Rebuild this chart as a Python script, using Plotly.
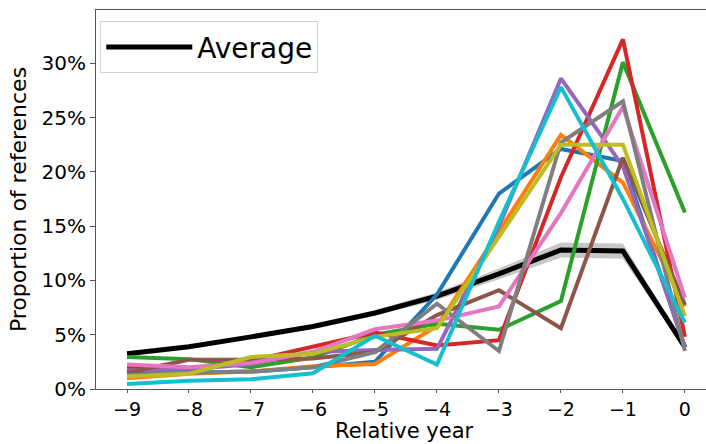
import plotly.graph_objects as go

# Relative year of each reference (0 = year of the citing work)
years = [-9, -8, -7, -6, -5, -4, -3, -2, -1, 0]
year_labels = ["−9", "−8", "−7", "−6", "−5", "−4", "−3", "−2", "−1", "0"]

# Proportion of references (%) for each individual group
blue = [1.4, 1.5, 1.6, 2.0, 2.5, 8.7, 18.0, 22.1, 21.0, 3.8]
orange = [1.0, 1.4, 1.6, 2.1, 2.3, 5.8, 14.5, 23.4, 19.0, 7.6]
green = [2.95, 2.75, 2.0, 2.9, 5.0, 6.0, 5.45, 8.1, 30.1, 16.25]
red = [2.0, 1.9, 2.6, 3.9, 5.2, 4.0, 4.5, 19.5, 32.2, 4.8]
purple = [1.7, 1.8, 2.3, 3.4, 3.6, 3.7, 15.0, 28.6, 20.5, 3.9]
brown = [1.5, 2.7, 2.7, 2.8, 3.4, 6.8, 9.1, 5.6, 21.3, 7.75]
pink = [2.25, 2.0, 2.4, 3.4, 5.5, 6.3, 7.6, 16.2, 26.0, 8.4]
gray = [1.3, 1.5, 1.6, 2.0, 3.4, 7.85, 3.5, 22.7, 26.5, 3.5]
olive = [1.15, 1.4, 2.95, 3.25, 4.8, 5.6, 14.0, 22.5, 22.5, 6.7]
cyan = [0.45, 0.75, 0.9, 1.45, 4.9, 2.25, 15.4, 27.8, 17.5, 6.1]

# Overall average and its confidence band
average = [3.25, 3.9, 4.8, 5.75, 7.0, 8.55, 10.6, 12.8, 12.7, 3.85]
avg_lower = [3.15, 3.8, 4.65, 5.55, 6.75, 8.2, 10.1, 12.1, 12.0, 3.55]
avg_upper = [3.35, 4.0, 4.95, 5.95, 7.25, 8.9, 11.1, 13.5, 13.4, 4.15]

y_ticks = [0, 5, 10, 15, 20, 25, 30]
y_tick_labels = ["0%", "5%", "10%", "15%", "20%", "25%", "30%"]

series = [
    (blue, "#1f77b4"), (orange, "#ff7f0e"), (green, "#2ca02c"),
    (red, "#d62728"), (purple, "#9467bd"), (brown, "#8c564b"),
    (pink, "#e377c2"), (gray, "#7f7f7f"), (olive, "#bcbd22"),
    (cyan, "#17becf"),
]

W, H = 706, 444
M_L, M_R, M_T, M_B = 96, 0, 10, 55

fig = go.Figure()

# confidence band around the average
fig.add_trace(go.Scatter(x=years, y=avg_lower, mode="lines", line=dict(width=0),
                         showlegend=False, hoverinfo="skip"))
fig.add_trace(go.Scatter(x=years, y=avg_upper, mode="lines", line=dict(width=0),
                         fill="tonexty", fillcolor="rgba(0,0,0,0.22)",
                         showlegend=False, hoverinfo="skip"))
fig.add_trace(go.Scatter(x=years, y=average, mode="lines", name="Average",
                         line=dict(color="black", width=5)))

for vals, col in series:
    fig.add_trace(go.Scatter(x=years, y=vals, mode="lines", showlegend=False,
                             line=dict(color=col, width=4)))

x_tick_font = dict(family="DejaVu Sans", size=19, color="black")
y_tick_font = dict(family="DejaVu Sans", size=20, color="black")
title_font = dict(family="DejaVu Sans", size=21, color="black")

# x-axis title placed at the bottom edge of the figure
fig.add_annotation(
    text="Relative year", xref="paper", yref="paper",
    x=0.505, y=-M_B / (H - M_T - M_B), xanchor="center", yanchor="bottom",
    showarrow=False, font=title_font, borderpad=0,
)

fig.update_layout(
    width=W, height=H,
    margin=dict(l=M_L, r=M_R, t=M_T, b=M_B),
    paper_bgcolor="white", plot_bgcolor="white",
    font=dict(family="DejaVu Sans", color="black"),
    showlegend=True,
    legend=dict(
        x=0.007, y=0.97, xanchor="left", yanchor="top",
        bgcolor="white", bordercolor="#d0d0d0", borderwidth=1,
        font=dict(family="DejaVu Sans", size=28, color="black"),
        itemwidth=86,
    ),
    xaxis=dict(
        range=[-9.5, 0.34], tickmode="array", tickvals=years, ticktext=year_labels,
        showgrid=False, zeroline=False, showline=True, linecolor="#555",
        linewidth=1, mirror=True, ticks="outside", ticklen=3, tickcolor="#555",
        tickfont=x_tick_font,
    ),
    yaxis=dict(
        range=[0, 34.9], tickmode="array", tickvals=y_ticks, ticktext=y_tick_labels,
        showgrid=False, zeroline=False, showline=True, linecolor="#555",
        linewidth=1, ticks="outside", ticklen=5, tickcolor="#555",
        tickfont=y_tick_font,
        title=dict(text="Proportion of references",
                   font=dict(family="DejaVu Sans", size=22, color="black"),
                   standoff=8),
    ),
)

fig.write_html("out.html")
